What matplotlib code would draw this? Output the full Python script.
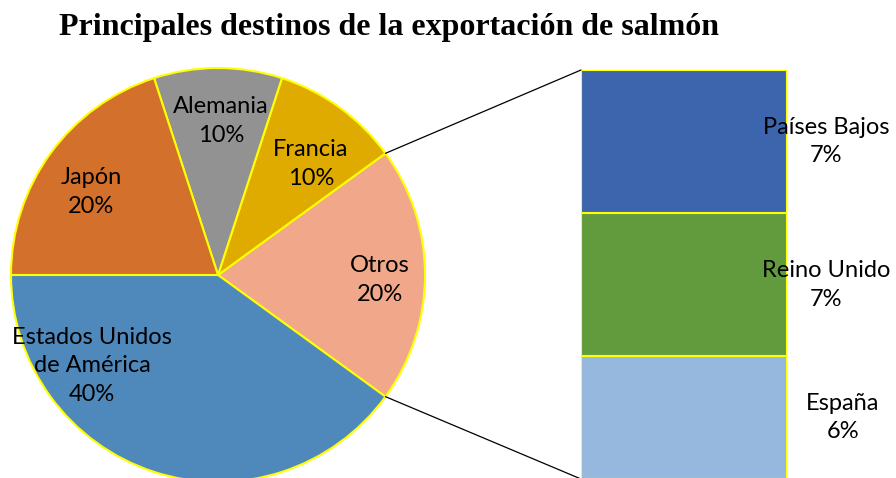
# Pie of pie: principales destinos de la exportación de salmón
import numpy as np
import matplotlib.pyplot as plt
from matplotlib.patches import ConnectionPatch

# Datos
paises = ["Otros", "Francia", "Alemania", "Japón", "Estados Unidos\nde América"]
valores = [20, 10, 10, 20, 40]
colores = ["#F0A78A", "#E0AB00", "#929292", "#D2702C", "#4F88BB"]

otros_paises = ["España", "Reino Unido", "Países Bajos"]
otros_valores = [6, 7, 7]
otros_colores = ["#97B8DE", "#629A3E", "#3D65AD"]

fuente = ["Lato", "DejaVu Sans"]

fig = plt.figure(figsize=(8.96, 4.78), dpi=100)

# Pie en coordenadas de pixel
ax = fig.add_axes([0, 0, 1, 1])
centro = (218, 203)
radio = 207
wedges, _ = ax.pie(valores, colors=colores, startangle=-36, counterclock=True,
                   center=centro, radius=radio, frame=True,
                   wedgeprops=dict(edgecolor="#FFFF00", linewidth=1.5))
ax.set_xlim(0, 896)
ax.set_ylim(0, 478)
ax.set_aspect("equal")
ax.axis("off")

# Etiquetas del pie
pos_etiquetas = [(380, 478 - 280), (311, 478 - 164), (221, 478 - 121),
                 (91, 478 - 192), (92, 478 - 366)]
for (x, y), nombre, v in zip(pos_etiquetas, paises, valores):
    ax.text(x, y, f"{nombre}\n{v}%", ha="center", va="center", fontsize=17,
            family=fuente, linespacing=1.45)

# Barra apilada
axb = fig.add_axes([581 / 896, -1 / 478, 206 / 896, 409 / 478])
base = 0
for nombre, v, c in zip(otros_paises, otros_valores, otros_colores):
    axb.bar(0, v, bottom=base, width=1, color=c, edgecolor="#FFFF00", linewidth=1.5)
    axb.text(0.77 if nombre == "España" else 0.69, base + v / 2, f"{nombre}\n{v}%",
             ha="center", va="center", fontsize=17, family=fuente, linespacing=1.45)
    base += v
axb.set_xlim(-0.5, 0.5)
axb.set_ylim(0, sum(otros_valores))
axb.axis("off")

# Lineas de conexion
w = wedges[0]
for ang, yb in [(w.theta2, sum(otros_valores)), (w.theta1, 0)]:
    x = centro[0] + radio * np.cos(np.radians(ang))
    y = centro[1] + radio * np.sin(np.radians(ang))
    con = ConnectionPatch(xyA=(-0.5, yb), coordsA=axb.transData,
                          xyB=(x, y), coordsB=ax.transData,
                          color="black", linewidth=0.9)
    fig.add_artist(con)

fig.text(389 / 896, 1 - 28 / 478, "Principales destinos de la exportación de salmón",
         ha="center", va="center", fontsize=23, fontweight="bold",
         family="Liberation Serif")

fig.savefig("out.png", dpi=100)
